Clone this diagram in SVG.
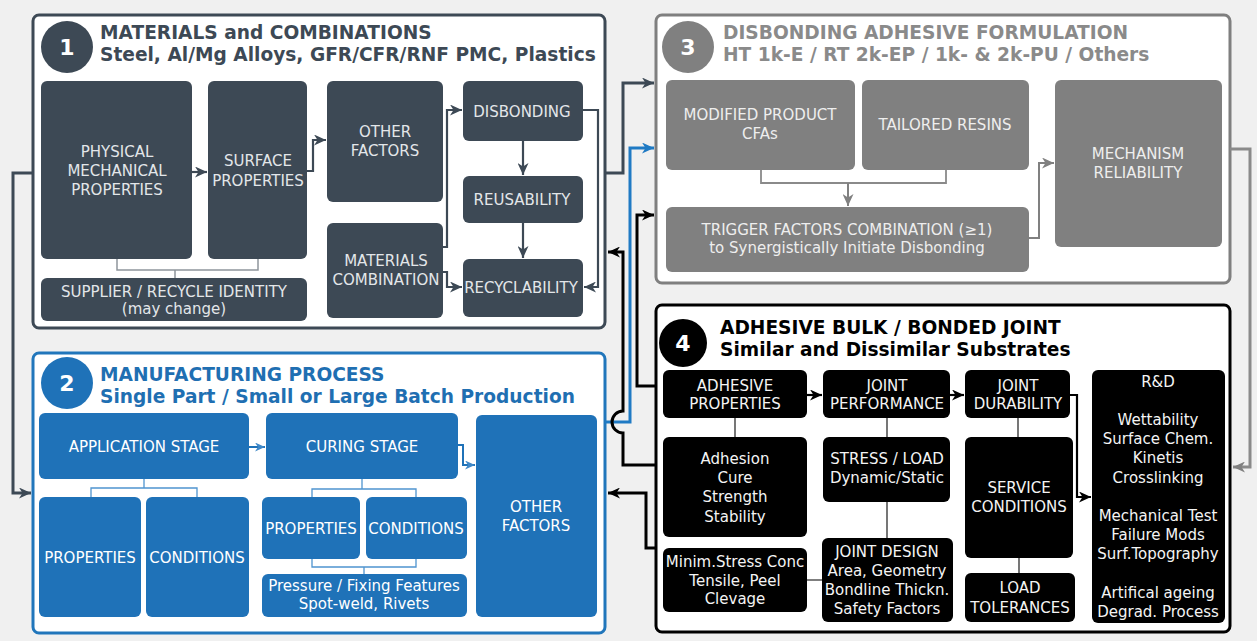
<svg xmlns="http://www.w3.org/2000/svg" width="1257" height="641" viewBox="0 0 1257 641">
  <defs>
    <style>
      .lbl { font-family: "DejaVu Sans", Verdana, sans-serif; font-size: 15px; text-anchor: middle; }
      .hd { font-family: "DejaVu Sans", Verdana, sans-serif; font-size: 18.6px; font-weight: bold; }
      .num { font-family: "DejaVu Sans", Verdana, sans-serif; font-size: 22px; font-weight: bold; fill: #ffffff; text-anchor: middle; }
      .frame { fill: #ffffff; stroke-width: 3; }
      .slate { fill: #3d4955; }
      .slate-t { fill: #e3e6e9; }
      .grey { fill: #808080; }
      .grey-t { fill: #eeeeee; }
      .blue { fill: #1f72b8; }
      .blue-t { fill: #ffffff; }
      .blk { fill: #000000; }
      .blk-t { fill: #f4f4f4; }
      .c { fill: none; stroke-linejoin: miter; }
      .c-slate { stroke: #3d4955; stroke-width: 2.2; }
      .c-slate-main { stroke: #3d4955; stroke-width: 3; }
      .c-blue { stroke: #1f72b8; stroke-width: 2; }
      .c-blue-main { stroke: #1f7ac4; stroke-width: 3; }
      .c-blk { stroke: #000000; stroke-width: 2.2; }
      .c-blk-main { stroke: #000000; stroke-width: 3; }
      .c-grey { stroke: #808080; stroke-width: 2; }
      .c-grey-main { stroke: #8a8a8a; stroke-width: 3; }
      .br-slate { stroke: #8e959c; stroke-width: 1.5; }
      .br-blue { stroke: #4f94cf; stroke-width: 1.3; }
      .br-grey { stroke: #8a8a8a; stroke-width: 1.8; }
      .br-blk { stroke: #555555; stroke-width: 1.6; }
    </style>
    <marker id="a-slate" markerUnits="userSpaceOnUse" markerWidth="13" markerHeight="11" refX="12" refY="5.5" orient="auto">
      <path d="M0,0 L12,5.5 L0,11 L3.5,5.5 Z" fill="#3d4955"/>
    </marker>
    <marker id="a-blue" markerUnits="userSpaceOnUse" markerWidth="13" markerHeight="11" refX="12" refY="5.5" orient="auto">
      <path d="M0,0 L12,5.5 L0,11 L3.5,5.5 Z" fill="#1f7ac4"/>
    </marker>
    <marker id="a-blue-s" markerUnits="userSpaceOnUse" markerWidth="11" markerHeight="9" refX="10" refY="4.5" orient="auto">
      <path d="M0,0 L10,4.5 L0,9 L3,4.5 Z" fill="#3f88c8"/>
    </marker>
    <marker id="a-blk" markerUnits="userSpaceOnUse" markerWidth="13" markerHeight="11" refX="12" refY="5.5" orient="auto">
      <path d="M0,0 L12,5.5 L0,11 L3.5,5.5 Z" fill="#000000"/>
    </marker>
    <marker id="a-grey" markerUnits="userSpaceOnUse" markerWidth="13" markerHeight="11" refX="12" refY="5.5" orient="auto">
      <path d="M0,0 L12,5.5 L0,11 L3.5,5.5 Z" fill="#808080"/>
    </marker>
  </defs>

  <rect width="1257" height="641" fill="#f0f0f0"/>

  <!-- Panel 1: materials -->
  <g id="panel1">
    <rect class="frame" x="33" y="15" width="572" height="313" rx="6" stroke="#3d4955"/>
    <circle cx="67" cy="47" r="26" fill="#3d4955"/>
    <text class="num" x="67" y="55">1</text>
    <text class="hd" x="100" y="39" fill="#3d4955">MATERIALS and COMBINATIONS</text>
    <text class="hd" x="100" y="61" fill="#3d4955">Steel, Al/Mg Alloys, GFR/CFR/RNF PMC, Plastics</text>
  </g>
  <g id="n-physical">
    <rect class="slate" x="41" y="81" width="151" height="178" rx="6"/>
    <text class="lbl slate-t" x="117" y="157">PHYSICAL</text>
    <text class="lbl slate-t" x="117" y="176">MECHANICAL</text>
    <text class="lbl slate-t" x="117" y="195">PROPERTIES</text>
  </g>
  <g id="n-surface">
    <rect class="slate" x="208" y="81" width="99" height="178" rx="6"/>
    <text class="lbl slate-t" x="258" y="166">SURFACE</text>
    <text class="lbl slate-t" x="258" y="186">PROPERTIES</text>
  </g>
  <g id="n-supplier">
    <rect class="slate" x="41" y="278" width="266" height="43" rx="6"/>
    <text class="lbl slate-t" x="174" y="297">SUPPLIER / RECYCLE IDENTITY</text>
    <text class="lbl slate-t" x="174" y="314">(may change)</text>
  </g>
  <g id="n-other1">
    <rect class="slate" x="327" y="81" width="116" height="121" rx="6"/>
    <text class="lbl slate-t" x="385" y="137">OTHER</text>
    <text class="lbl slate-t" x="385" y="156">FACTORS</text>
  </g>
  <g id="n-matcomb">
    <rect class="slate" x="327" y="223" width="116" height="95" rx="6"/>
    <text class="lbl slate-t" x="386" y="266">MATERIALS</text>
    <text class="lbl slate-t" x="386" y="285">COMBINATION</text>
  </g>
  <g id="n-disbonding">
    <rect class="slate" x="463" y="81" width="120" height="60" rx="6"/>
    <text class="lbl slate-t" x="522" y="117">DISBONDING</text>
  </g>
  <g id="n-reuse">
    <rect class="slate" x="463" y="176" width="120" height="47" rx="6"/>
    <text class="lbl slate-t" x="522" y="205">REUSABILITY</text>
  </g>
  <g id="n-recycle">
    <rect class="slate" x="463" y="259" width="120" height="58" rx="6"/>
    <text class="lbl slate-t" x="521" y="293">RECYCLABILITY</text>
  </g>

  <!-- Panel 2: manufacturing -->
  <g id="panel2">
    <rect class="frame" x="33" y="353" width="572" height="280" rx="6" stroke="#2176bb"/>
    <circle cx="67" cy="383" r="26" fill="#1f72b8"/>
    <text class="num" x="67" y="391">2</text>
    <text class="hd" x="100" y="381" fill="#1f6fb2">MANUFACTURING PROCESS</text>
    <text class="hd" x="100" y="403" fill="#1f6fb2">Single Part / Small or Large Batch Production</text>
  </g>
  <g id="n-application">
    <rect class="blue" x="39" y="413" width="210" height="66" rx="6"/>
    <text class="lbl blue-t" x="144" y="452">APPLICATION STAGE</text>
  </g>
  <g id="n-curing">
    <rect class="blue" x="266" y="413" width="192" height="66" rx="6"/>
    <text class="lbl blue-t" x="362" y="452">CURING STAGE</text>
  </g>
  <g id="n-app-props">
    <rect class="blue" x="39" y="497" width="102" height="120" rx="6"/>
    <text class="lbl blue-t" x="90" y="563">PROPERTIES</text>
  </g>
  <g id="n-app-cond">
    <rect class="blue" x="146" y="497" width="103" height="120" rx="6"/>
    <text class="lbl blue-t" x="197" y="563">CONDITIONS</text>
  </g>
  <g id="n-cure-props">
    <rect class="blue" x="262" y="497" width="98" height="62" rx="6"/>
    <text class="lbl blue-t" x="311" y="534">PROPERTIES</text>
  </g>
  <g id="n-cure-cond">
    <rect class="blue" x="366" y="497" width="101" height="62" rx="6"/>
    <text class="lbl blue-t" x="416" y="534">CONDITIONS</text>
  </g>
  <g id="n-pressure">
    <rect class="blue" x="262" y="574" width="205" height="43" rx="6"/>
    <text class="lbl blue-t" x="364" y="591">Pressure / Fixing Features</text>
    <text class="lbl blue-t" x="364" y="609">Spot-weld, Rivets</text>
  </g>
  <g id="n-other2">
    <rect class="blue" x="476" y="415" width="121" height="202" rx="6"/>
    <text class="lbl blue-t" x="536" y="512">OTHER</text>
    <text class="lbl blue-t" x="536" y="531">FACTORS</text>
  </g>

  <!-- Panel 3: adhesive formulation -->
  <g id="panel3">
    <rect class="frame" x="656" y="15" width="574" height="268" rx="6" stroke="#7f7f7f"/>
    <circle cx="688" cy="47" r="26" fill="#808080"/>
    <text class="num" x="688" y="55">3</text>
    <text class="hd" x="723" y="39" fill="#8a8a8a">DISBONDING ADHESIVE FORMULATION</text>
    <text class="hd" x="723" y="61" fill="#8a8a8a">HT 1k-E / RT 2k-EP / 1k- &amp; 2k-PU / Others</text>
  </g>
  <g id="n-modified">
    <rect class="grey" x="666" y="80" width="189" height="90" rx="6"/>
    <text class="lbl grey-t" x="760" y="120">MODIFIED PRODUCT</text>
    <text class="lbl grey-t" x="760" y="139">CFAs</text>
  </g>
  <g id="n-resins">
    <rect class="grey" x="862" y="80" width="167" height="90" rx="6"/>
    <text class="lbl grey-t" x="945" y="130">TAILORED RESINS</text>
  </g>
  <g id="n-trigger">
    <rect class="grey" x="666" y="207" width="363" height="65" rx="6"/>
    <text class="lbl grey-t" x="847" y="235">TRIGGER FACTORS COMBINATION (≥1)</text>
    <text class="lbl grey-t" x="847" y="253">to Synergistically Initiate Disbonding</text>
  </g>
  <g id="n-mechanism">
    <rect class="grey" x="1055" y="80" width="167" height="167" rx="6"/>
    <text class="lbl grey-t" x="1138" y="159">MECHANISM</text>
    <text class="lbl grey-t" x="1138" y="178">RELIABILITY</text>
  </g>

  <!-- Panel 4: adhesive bulk / bonded joint -->
  <g id="panel4">
    <rect class="frame" x="656" y="305" width="574" height="327" rx="6" stroke="#000000"/>
    <circle cx="683" cy="343" r="24" fill="#000000"/>
    <text class="num" x="683" y="351">4</text>
    <text class="hd" x="720" y="334" fill="#000000">ADHESIVE BULK / BONDED JOINT</text>
    <text class="hd" x="720" y="356" fill="#000000">Similar and Dissimilar Substrates</text>
  </g>
  <g id="n-adh-props">
    <rect class="blk" x="663" y="370" width="144" height="48" rx="6"/>
    <text class="lbl blk-t" x="735" y="391">ADHESIVE</text>
    <text class="lbl blk-t" x="735" y="409">PROPERTIES</text>
  </g>
  <g id="n-joint-perf">
    <rect class="blk" x="823" y="370" width="127" height="48" rx="6"/>
    <text class="lbl blk-t" x="887" y="391">JOINT</text>
    <text class="lbl blk-t" x="887" y="409">PERFORMANCE</text>
  </g>
  <g id="n-joint-dur">
    <rect class="blk" x="965" y="370" width="105" height="48" rx="6"/>
    <text class="lbl blk-t" x="1018" y="391">JOINT</text>
    <text class="lbl blk-t" x="1018" y="409">DURABILITY</text>
  </g>
  <g id="n-rnd">
    <rect class="blk" x="1092" y="370" width="133" height="253" rx="6"/>
    <text class="lbl blk-t" x="1158" y="387">R&amp;D</text>
    <text class="lbl blk-t" x="1158" y="425">Wettability</text>
    <text class="lbl blk-t" x="1158" y="444">Surface Chem.</text>
    <text class="lbl blk-t" x="1158" y="463">Kinetis</text>
    <text class="lbl blk-t" x="1158" y="483">Crosslinking</text>
    <text class="lbl blk-t" x="1158" y="521">Mechanical Test</text>
    <text class="lbl blk-t" x="1158" y="540">Failure Mods</text>
    <text class="lbl blk-t" x="1158" y="559">Surf.Topography</text>
    <text class="lbl blk-t" x="1158" y="598">Artifical ageing</text>
    <text class="lbl blk-t" x="1158" y="617">Degrad. Process</text>
  </g>
  <g id="n-adhesion">
    <rect class="blk" x="663" y="437" width="144" height="100" rx="6"/>
    <text class="lbl blk-t" x="735" y="464">Adhesion</text>
    <text class="lbl blk-t" x="735" y="483">Cure</text>
    <text class="lbl blk-t" x="735" y="502">Strength</text>
    <text class="lbl blk-t" x="735" y="522">Stability</text>
  </g>
  <g id="n-stress">
    <rect class="blk" x="823" y="437" width="127" height="65" rx="6"/>
    <text class="lbl blk-t" x="887" y="464">STRESS / LOAD</text>
    <text class="lbl blk-t" x="887" y="483">Dynamic/Static</text>
  </g>
  <g id="n-minim">
    <rect class="blk" x="663" y="548" width="144" height="64" rx="6"/>
    <text class="lbl blk-t" x="735" y="567">Minim.Stress Conc</text>
    <text class="lbl blk-t" x="735" y="586">Tensile, Peel</text>
    <text class="lbl blk-t" x="735" y="604">Clevage</text>
  </g>
  <g id="n-joint-design">
    <rect class="blk" x="822" y="538" width="131" height="84" rx="6"/>
    <text class="lbl blk-t" x="887" y="557">JOINT DESIGN</text>
    <text class="lbl blk-t" x="887" y="576">Area, Geometry</text>
    <text class="lbl blk-t" x="887" y="595">Bondline Thickn.</text>
    <text class="lbl blk-t" x="887" y="614">Safety Factors</text>
  </g>
  <g id="n-service">
    <rect class="blk" x="965" y="437" width="108" height="121" rx="6"/>
    <text class="lbl blk-t" x="1019" y="493">SERVICE</text>
    <text class="lbl blk-t" x="1019" y="512">CONDITIONS</text>
  </g>
  <g id="n-load">
    <rect class="blk" x="965" y="573" width="110" height="49" rx="6"/>
    <text class="lbl blk-t" x="1020" y="593">LOAD</text>
    <text class="lbl blk-t" x="1020" y="613">TOLERANCES</text>
  </g>

  <!-- Connectors -->
  <g id="connectors">
    <!-- panel 1 internals -->
    <path class="c br-slate" d="M117,259 V270 H258 V259 M175,270 V278"/>
    <path class="c c-slate" d="M192,172 H207" marker-end="url(#a-slate)"/>
    <path class="c c-slate" d="M307,171 H313 V140 H326" marker-end="url(#a-slate)"/>
    <path class="c c-slate" d="M443,247 H447 V110 H462" marker-end="url(#a-slate)"/>
    <path class="c c-slate" d="M443,272 H447 V287 H462" marker-end="url(#a-slate)"/>
    <path class="c c-slate" d="M523,141 V175" marker-end="url(#a-slate)"/>
    <path class="c c-slate" d="M523,223 V258" marker-end="url(#a-slate)"/>
    <path class="c c-slate" d="M583,110 H598 V287 H584" marker-end="url(#a-slate)"/>

    <!-- panel 2 internals -->
    <path class="c br-blue" d="M144,479 V488 M91,497 V488 H197 V497"/>
    <path class="c br-blue" d="M362,479 V489 M312,497 V489 H416 V497"/>
    <path class="c br-blue" d="M312,559 V567 H416 V559 M364,567 V574"/>
    <path class="c c-blue" d="M249,447 H265" marker-end="url(#a-blue-s)"/>
    <path class="c c-blue" d="M458,445 H463 V465 H475" marker-end="url(#a-blue-s)"/>

    <!-- panel 3 internals -->
    <path class="c br-grey" d="M761,170 V183 H946 V170"/>
    <path class="c c-grey" d="M848,183 V206" marker-end="url(#a-grey)"/>
    <path class="c c-grey" d="M1029,238 H1039 V163 H1054" marker-end="url(#a-grey)"/>

    <!-- panel 4 internals -->
    <path class="c br-blk" d="M735,418 V437 M887,418 V437 M887,502 V538 M807,580 H822 M1018,418 V437 M1019,558 V573"/>
    <path class="c c-blk" d="M807,395 H822" marker-end="url(#a-blk)"/>
    <path class="c c-blk" d="M950,395 H964" marker-end="url(#a-blk)"/>
    <path class="c c-blk" d="M1070,395 H1077 V497 H1091" marker-end="url(#a-blk)"/>

    <!-- links between panels -->
    <path class="c c-slate-main" d="M33,173 H13 V493 H31" marker-end="url(#a-slate)"/>
    <path class="c c-slate-main" d="M605,173 H623 V83 H654" marker-end="url(#a-slate)"/>
    <path class="c c-blue-main" d="M605,422 H630 V148 H654" marker-end="url(#a-blue)"/>
    <path class="c c-blk-main" d="M656,386 H637 V215 H654" marker-end="url(#a-blk)"/>
    <path class="c c-blk-main" d="M656,465 H623 V433 A11,11 0 0 1 623,411 V252 H608" marker-end="url(#a-blk)"/>
    <path class="c c-blk-main" d="M656,548 H646 V493 H608" marker-end="url(#a-blk)"/>
    <path class="c c-grey-main" d="M1230,149 H1250 V467 H1233" marker-end="url(#a-grey)"/>
  </g>
</svg>
